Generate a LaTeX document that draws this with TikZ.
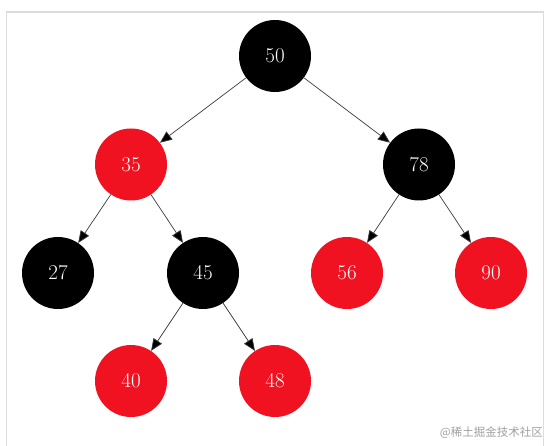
\documentclass[tikz,border=0pt]{standalone}
\usepackage{fontspec}
\newfontfamily\cjk{Noto Sans CJK SC}
\usetikzlibrary{arrows.meta}
\definecolor{rbred}{RGB}{240,18,32}
\definecolor{framegray}{RGB}{221,221,221}
\definecolor{edgegray}{RGB}{60,60,60}
\definecolor{wmgray}{RGB}{160,160,160}
\begin{document}
\begin{tikzpicture}[x=1pt,y=-1pt,
  rbnode/.style={circle,minimum size=72pt,inner sep=0pt,text=white,font=\fontsize{21}{25}\selectfont},
  blk/.style={rbnode,fill=black},
  rd/.style={rbnode,fill=rbred},
  edge/.style={draw=edgegray,line width=0.7pt,-{Triangle[length=12pt,width=10pt,fill=black]}}]
\useasboundingbox (0,0) rectangle (546,446);
\fill[white] (0,0) rectangle (546,446);
\draw[framegray,line width=1.6pt] (6.5,470) -- (6.5,12) -- (543.5,12) -- (543.5,470);
\node[blk] (n50) at (275,56) {50};
\node[rd]  (n35) at (131,164.5) {35};
\node[blk] (n78) at (419,164.5) {78};
\node[blk] (n27) at (58,273) {27};
\node[blk] (n45) at (203,273) {45};
\node[rd]  (n56) at (347,273) {56};
\node[rd]  (n90) at (491,273) {90};
\node[rd]  (n40) at (131,381) {40};
\node[rd]  (n48) at (275,381) {48};
\draw[edge] (n50) -- (n35);
\draw[edge] (n50) -- (n78);
\draw[edge] (n35) -- (n27);
\draw[edge] (n35) -- (n45);
\draw[edge] (n78) -- (n56);
\draw[edge] (n78) -- (n90);
\draw[edge] (n45) -- (n40);
\draw[edge] (n45) -- (n48);
\node[anchor=east,text=wmgray,inner sep=0pt,font=\cjk\fontsize{11.5}{13}\selectfont] (wm) at (543,433) {@稀土掘金技术社区};
\end{tikzpicture}
\end{document}
